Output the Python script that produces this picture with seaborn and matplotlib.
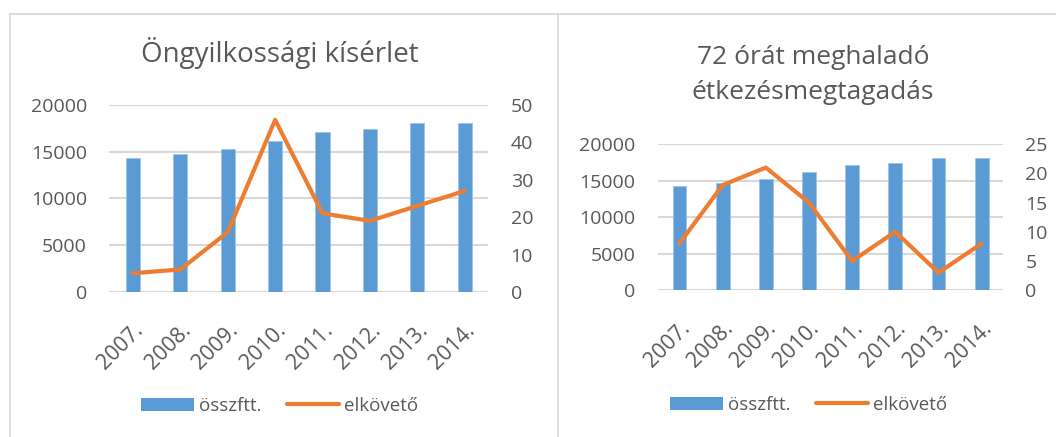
import matplotlib
matplotlib.use("Agg")
import matplotlib.pyplot as plt
import seaborn as sns
import pandas as pd
from matplotlib.patches import Patch
from matplotlib.lines import Line2D

# data
years = ['2007.', '2008.', '2009.', '2010.', '2011.', '2012.', '2013.', '2014.']
osszftt = [14300, 14750, 15300, 16150, 17150, 17450, 18050, 18100]
kiserlet = [5, 6, 16, 46, 21, 19, 23, 27]
ehsegsztrajk = [8, 18, 21, 15, 5, 10, 3, 8]

titles = ['Öngyilkossági kísérlet', '72 órát meghaladó\nétkezésmegtagadás']

BLUE = '#5B9BD5'
ORANGE = '#ED7D31'
GRID = '#D9D9D9'
TEXT = '#595959'

sns.set_theme(style='white')
plt.rcParams['font.family'] = ['Open Sans', 'DejaVu Sans']

fig = plt.figure(figsize=(10.56, 4.37), dpi=100)


def draw_chart(rect, title, title_xy, title_size, line_vals, ymax2, step2, bar_w,
               legend_xy):
    ax = fig.add_axes(rect)
    df = pd.DataFrame({'ev': years, 'osszftt': osszftt, 'elkoveto': line_vals})
    sns.barplot(data=df, x='ev', y='osszftt', ax=ax, color=BLUE, saturation=1,
                width=bar_w, edgecolor='#9DC3E6', linewidth=0.6, zorder=2)
    ax.set_ylim(0, 20000)
    ax.set_yticks(range(0, 20001, 5000))
    ax.set_xlim(-0.5, len(years) - 0.5)
    ax.yaxis.grid(True, color=GRID, linewidth=1.5, zorder=0)
    ax.set_axisbelow(True)
    for s in ax.spines.values():
        s.set_visible(False)
    ax.set_xlabel('')
    ax.set_ylabel('')
    ax.tick_params(axis='y', length=0, pad=16, labelsize=14, labelcolor=TEXT)
    ax.tick_params(axis='x', length=0, pad=20, labelsize=15.5, labelcolor=TEXT)
    plt.setp(ax.get_xticklabels(), rotation=45, ha='right', va='top',
             rotation_mode='anchor')

    ax2 = ax.twinx()
    sns.pointplot(data=df, x='ev', y='elkoveto', ax=ax2, color=ORANGE,
                  markers='', linestyles='-', linewidth=3.0)
    ax2.set_ylim(0, ymax2)
    ax2.set_yticks(range(0, ymax2 + 1, step2))
    ax2.set_xlim(-0.5, len(years) - 0.5)
    for s in ax2.spines.values():
        s.set_visible(False)
    ax2.set_ylabel('')
    ax2.set_xlabel('')
    ax2.grid(False)
    ax2.tick_params(axis='y', length=0, pad=16, labelsize=14, labelcolor=TEXT)

    fig.text(title_xy[0], title_xy[1], title, ha='center', va='center',
             fontsize=title_size, color=TEXT, linespacing=1.5)

    handles = [Patch(facecolor=BLUE, edgecolor='none'),
               Line2D([0], [0], color=ORANGE, linewidth=3.0)]
    fig.legend(handles, ['összftt.', 'elkövető'], loc='center',
               bbox_to_anchor=legend_xy, ncol=2, frameon=False,
               fontsize=13.5, labelcolor=TEXT, handlelength=2.8,
               handleheight=0.75, handletextpad=0.27, columnspacing=1.35)
    return ax


draw_chart([0.1035, 0.332, 0.359, 0.428], titles[0], (0.265, 1 - 53 / 437), 20,
           kiserlet, 50, 10, 0.3, (0.265, 1 - 406 / 437))
draw_chart([0.623, 0.336, 0.327, 0.334], titles[1], (0.770, 1 - 75 / 437), 19,
           ehsegsztrajk, 25, 5, 0.32, (0.766, 1 - 405 / 437))

# chart frames
for xs, ys in [([10 / 1056, 1.0], [1 - 13.5 / 437] * 2),
               ([10 / 1056] * 2, [0, 1 - 13.5 / 437]),
               ([558 / 1056] * 2, [0, 1 - 13.5 / 437])]:
    fig.add_artist(Line2D(xs, ys, color=GRID, linewidth=1.3,
                          transform=fig.transFigure))

fig.savefig('out.png', dpi=100)
